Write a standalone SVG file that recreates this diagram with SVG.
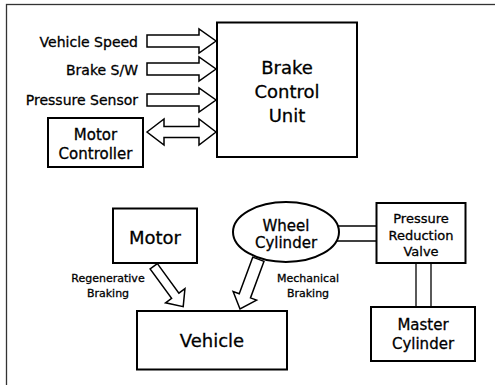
<svg xmlns="http://www.w3.org/2000/svg" width="495" height="385" viewBox="0 0 495 385">
<style>
.box{fill:#fff;stroke:#000;stroke-width:2}
.arr{fill:#fff;stroke:#000;stroke-width:1.5;stroke-linejoin:miter}
.ln{stroke:#000;stroke-width:1.3;fill:none}
text{font-family:"DejaVu Sans","Liberation Sans",sans-serif;fill:#000;stroke:#000;stroke-width:0.3}
.big{font-size:18px;text-anchor:middle}
.mid{font-size:15px;text-anchor:middle}
.sm{font-size:13px;text-anchor:middle}
.lab{font-size:14px;text-anchor:end}
.tiny{font-size:11px;text-anchor:middle}
</style>
<rect width="495" height="385" fill="#fff"/>
<rect x="6.5" y="4.5" width="500" height="400" fill="none" stroke="#333" stroke-width="1.3"/>

<g id="connectors">
  <polygon class="arr" points="147,35 199,35 199,29 216,41 199,53 199,47 147,47"/>
  <polygon class="arr" points="147,63 199,63 199,57 216,69 199,81 199,75 147,75"/>
  <polygon class="arr" points="147,94 199,94 199,88 216,100 199,112 199,106 147,106"/>
  <polygon class="arr" points="147,132 164,119 164,126.5 199,126.5 199,119 216,132 199,145 199,137.5 164,137.5 164,145"/>
  <polygon class="arr" transform="translate(153.75,266.25) rotate(53.9)" points="0,-4.5 36.5,-4.5 36.5,-12 50,0 36.5,12 36.5,4.5 0,4.5"/>
  <polygon class="arr" transform="translate(257,263) rotate(110.3)" points="-4,-6 35,-6 35,-12.5 49,0 35,12.5 35,6 -4,6"/>
  <line class="ln" x1="330" y1="226" x2="376" y2="226"/>
  <line class="ln" x1="330" y1="241" x2="376" y2="241"/>
  <line class="ln" x1="416" y1="263" x2="416" y2="307"/>
  <line class="ln" x1="431" y1="263" x2="431" y2="307"/>
</g>

<g id="labels">
  <text class="lab" x="138" y="46.5">Vehicle Speed</text>
  <text class="lab" x="138" y="75">Brake S/W</text>
  <text class="lab" x="138" y="105">Pressure Sensor</text>
  <text class="tiny" x="108" y="282">Regenerative</text>
  <text class="tiny" x="108" y="296.5">Braking</text>
  <text class="tiny" x="308" y="282">Mechanical</text>
  <text class="tiny" x="308" y="296.5">Braking</text>
</g>

<g id="bcu">
  <rect class="box" x="217" y="22.5" width="140" height="134.5"/>
  <text class="big" x="287" y="74">Brake</text>
  <text class="big" x="287" y="98">Control</text>
  <text class="big" x="287" y="122">Unit</text>
</g>

<g id="motor-controller">
  <rect class="box" x="48" y="118" width="95" height="49"/>
  <text class="mid" x="95.5" y="140">Motor</text>
  <text class="mid" x="95.5" y="159">Controller</text>
</g>

<g id="motor">
  <rect class="box" x="113" y="208.5" width="84" height="54.5"/>
  <text class="big" x="155" y="244">Motor</text>
</g>

<g id="wheel-cylinder">
  <ellipse class="box" cx="286" cy="232" rx="53" ry="30"/>
  <text class="mid" x="286" y="231">Wheel</text>
  <text class="mid" x="286" y="248">Cylinder</text>
</g>

<g id="prv">
  <rect class="box" x="376.5" y="203" width="89" height="60"/>
  <text class="sm" x="421" y="223">Pressure</text>
  <text class="sm" x="421" y="239.5">Reduction</text>
  <text class="sm" x="421" y="256">Valve</text>
</g>

<g id="master-cylinder">
  <rect class="box" x="371" y="307" width="104" height="54"/>
  <text class="mid" x="423" y="330">Master</text>
  <text class="mid" x="423" y="348.5">Cylinder</text>
</g>

<g id="vehicle">
  <rect class="box" x="137" y="311" width="150" height="58.5"/>
  <text class="big" x="212" y="346.5">Vehicle</text>
</g>
</svg>
